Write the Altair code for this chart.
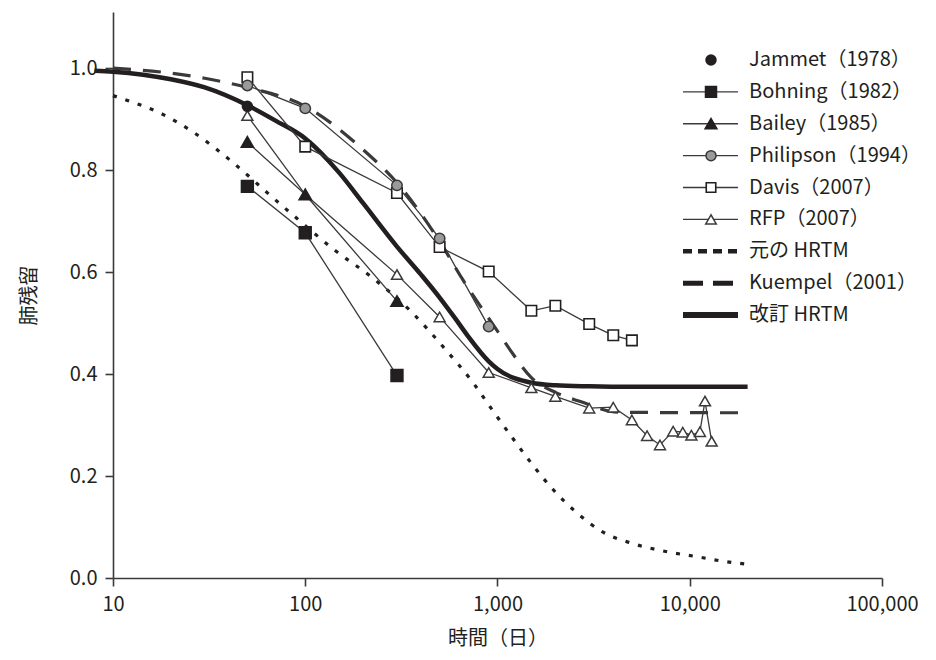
import altair as alt
import pandas as pd

# ---------------- data ----------------
jammet_day = [50]
jammet_val = [0.925]

bohning_day = [50, 100, 300]
bohning_val = [0.768, 0.677, 0.397]

bailey_day = [50, 100, 300]
bailey_val = [0.855, 0.752, 0.543]

philipson_day = [50, 100, 300, 500, 900]
philipson_val = [0.966, 0.921, 0.770, 0.666, 0.493]

davis_day = [50, 100, 300, 500, 900, 1500, 2000, 3000, 4000, 5000]
davis_val = [0.982, 0.846, 0.755, 0.649, 0.601, 0.524, 0.534, 0.498, 0.476, 0.466]

rfp_day = [50, 100, 300, 500, 900, 1500, 2000, 3000, 4000, 5000, 6000, 7000,
           8200, 9200, 10200, 11300, 12000, 13000]
rfp_val = [0.907, 0.752, 0.595, 0.512, 0.403, 0.373, 0.356, 0.333, 0.335, 0.310,
           0.279, 0.261, 0.288, 0.286, 0.280, 0.287, 0.347, 0.268]

orig_day = [10, 12, 18, 26, 42, 65, 90, 140, 225, 350, 520, 760, 950, 1200, 1500,
            1950, 2600, 3500, 5000, 7500, 10800, 15500, 20000]
orig_val = [0.946, 0.936, 0.910, 0.875, 0.815, 0.752, 0.706, 0.645, 0.588, 0.525,
            0.454, 0.379, 0.327, 0.274, 0.225, 0.173, 0.127, 0.091, 0.068, 0.052,
            0.042, 0.032, 0.027]

kuempel_day = [10, 20, 30, 50, 100, 200, 300, 500, 660, 1000, 1160, 1500, 2000,
               2700, 4300, 20000]
kuempel_val = [1.0, 0.99, 0.98, 0.962, 0.925, 0.84, 0.775, 0.66, 0.585, 0.484,
               0.448, 0.393, 0.364, 0.346, 0.325, 0.324]

revised_day = [8, 10, 20, 30, 50, 70, 100, 150, 200, 300, 400, 500, 600, 700, 900,
               1000, 1500, 2000, 3000, 5000, 20000]
revised_val = [0.995, 0.993, 0.978, 0.962, 0.927, 0.897, 0.862, 0.795, 0.735, 0.650,
               0.595, 0.550, 0.510, 0.475, 0.425, 0.410, 0.383, 0.378, 0.376, 0.375,
               0.375]

legend_labels = ["Jammet（1978）", "Bohning（1982）", "Bailey（1985）",
                 "Philipson（1994）", "Davis（2007）", "RFP（2007）",
                 "元の HRTM", "Kuempel（2001）", "改訂 HRTM"]

x_ticks = [10, 100, 1000, 10000, 100000]
y_ticks = [0.0, 0.2, 0.4, 0.6, 0.8, 1.0]

# ---------------- styling ----------------
FONT = "Noto Sans CJK JP"
INK = "#231f20"
LINE = "#3a3a3a"


def frame(days, vals):
    return pd.DataFrame({"day": days, "value": vals})


X = alt.X("day:Q",
          scale=alt.Scale(type="log", domain=[10, 100000], nice=False),
          axis=alt.Axis(values=x_ticks, format=",", title="時間（日）",
                        grid=False, tickSize=8, labelPadding=8,
                        titlePadding=14, labelFlush=False))
Y = alt.Y("value:Q",
          scale=alt.Scale(domain=[0, 1.11], nice=False, zero=False),
          axis=alt.Axis(values=y_ticks, format=".1f", title="肺残留",
                        grid=False, tickSize=8, labelPadding=8,
                        titlePadding=30))


def line(days, vals, **kw):
    return alt.Chart(frame(days, vals)).mark_line(**kw).encode(x=X, y=Y)


def pts(days, vals, **kw):
    return alt.Chart(frame(days, vals)).mark_point(opacity=1, **kw).encode(x=X, y=Y)


data_layers = [
    line(orig_day, orig_val, color=INK, strokeWidth=3.2, strokeDash=[4, 9],
         interpolate="monotone"),
    line(kuempel_day, kuempel_val, color=LINE, strokeWidth=3.2, strokeDash=[18, 12],
         interpolate="monotone"),
    line(revised_day, revised_val, color=INK, strokeWidth=4.5, interpolate="monotone"),
    line(bohning_day, bohning_val, color=LINE, strokeWidth=1.3),
    line(bailey_day, bailey_val, color=LINE, strokeWidth=1.3),
    line(philipson_day, philipson_val, color=LINE, strokeWidth=1.3),
    line(davis_day, davis_val, color=LINE, strokeWidth=1.3),
    line(rfp_day, rfp_val, color=LINE, strokeWidth=1.3),
    pts(rfp_day, rfp_val, shape="triangle-up", filled=True, fill="white",
        stroke=LINE, strokeWidth=1.5, size=120),
    pts(davis_day, davis_val, shape="square", filled=True, fill="white",
        stroke=INK, strokeWidth=1.6, size=110),
    pts(philipson_day, philipson_val, shape="circle", filled=True, fill="#9a9a9a",
        stroke=LINE, strokeWidth=1.5, size=110),
    pts(bailey_day, bailey_val, shape="triangle-up", filled=True, fill=INK, stroke=INK, size=130),
    pts(bohning_day, bohning_val, shape="square", filled=True, fill=INK, stroke=INK, size=130),
    pts(jammet_day, jammet_val, shape="circle", filled=True, fill=INK, stroke=INK, size=90),
]
data_chart = alt.layer(*data_layers)

# ---------------- legend (inside plot) ----------------
legend_df = pd.DataFrame({"label": legend_labels})
LY = alt.Y("label:N", axis=None,
           scale=alt.Scale(type="point", domain=legend_labels, range=[48, 303], padding=0))
LX0, LX1, LXM, LXT = 570, 625, 598, 636


def lrow(i):
    return alt.Chart(legend_df).transform_filter(alt.datum.label == legend_labels[i])


leg = []
seg_styles = {
    1: dict(color=LINE, strokeWidth=1.4),
    2: dict(color=LINE, strokeWidth=1.4),
    3: dict(color=LINE, strokeWidth=1.4),
    4: dict(color=LINE, strokeWidth=1.4),
    5: dict(color=LINE, strokeWidth=1.4),
    6: dict(color=INK, strokeWidth=4.5, strokeDash=[9, 6]),
    7: dict(color=INK, strokeWidth=5, strokeDash=[20, 10]),
    8: dict(color=INK, strokeWidth=6),
}
for i, st in seg_styles.items():
    leg.append(lrow(i).mark_rule(**st).encode(x=alt.value(LX0), x2=alt.value(LX1), y=LY))

mk_styles = {
    0: dict(shape="circle", fill=INK, stroke=INK, size=90),
    1: dict(shape="square", fill=INK, stroke=INK, size=110),
    2: dict(shape="triangle-up", fill=INK, stroke=INK, size=120),
    3: dict(shape="circle", fill="#9a9a9a", stroke=LINE, strokeWidth=1.5, size=100),
    4: dict(shape="square", fill="white", stroke=INK, strokeWidth=1.6, size=90),
    5: dict(shape="triangle-up", fill="white", stroke=LINE, strokeWidth=1.5, size=110),
}
for i, st in mk_styles.items():
    leg.append(lrow(i).mark_point(filled=True, opacity=1, **st)
               .encode(x=alt.value(LXM), y=LY))

leg.append(alt.Chart(legend_df).mark_text(align="left", baseline="middle", font=FONT,
                                          fontSize=20, color=INK)
           .encode(x=alt.value(LXT), y=LY, text="label:N"))
legend_chart = alt.layer(*leg)

chart = (
    alt.layer(data_chart, legend_chart)
    .resolve_scale(y="independent")
    .properties(width=769, height=566, autosize="none",
                padding={"left": 105, "top": 4, "right": 46, "bottom": 74})
    .configure_view(stroke=None)
    .configure_axis(domainColor=LINE, domainWidth=1.6, tickColor=LINE, tickWidth=1.6,
                    labelFont=FONT, labelFontSize=20, labelColor=INK,
                    titleFont=FONT, titleFontSize=20, titleColor=INK,
                    titleFontWeight="normal")
)

chart.save("out.html", embed_options={"renderer": "svg", "actions": False})
